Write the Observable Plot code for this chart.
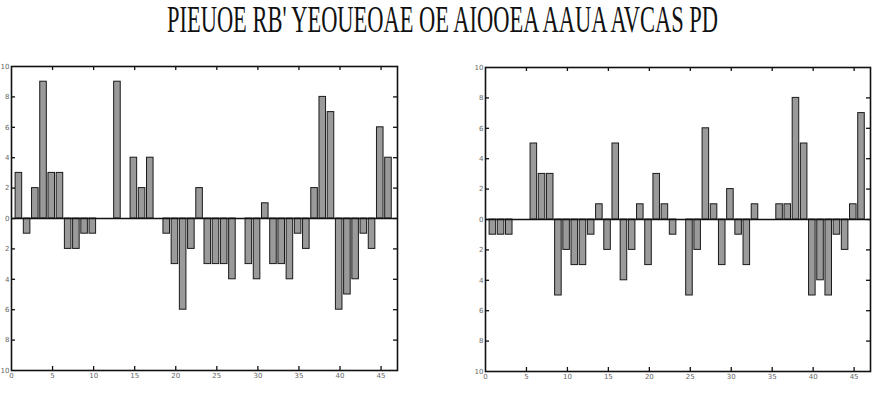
<!DOCTYPE html>
<html>
<head>
<meta charset="utf-8">
<script src="https://cdn.jsdelivr.net/npm/d3@7"></script>
<script src="https://cdn.jsdelivr.net/npm/@observablehq/plot@0.6"></script>
<style>
  html, body { margin: 0; padding: 0; background: #fff; width: 873px; height: 396px; overflow: hidden; }
  #title { position: absolute; left: 0; top: 0; }
  #left { position: absolute; left: 0; top: 56px; }
  #right { position: absolute; left: 470px; top: 57px; }
</style>
</head>
<body>
<svg id="title" width="873" height="45">
  <g transform="translate(167,32) scale(1,1.55)">
    <text id="titleText" x="0" y="0" font-family="Liberation Serif, DejaVu Serif, serif" font-size="24" fill="#111"
          textLength="551" lengthAdjust="spacingAndGlyphs"></text>
  </g>
</svg>
<div id="left"></div>
<div id="right"></div>
<script>
const titleText = "PIEUOE RB' YEOUEOAE OE AIOOEA AAUA AVCAS PD";
const leftValues = [3,-1,2,9,3,3,-2,-2,-1,-1,0,0,9,0,4,2,4,0,-1,-3,-6,-2,2,-3,-3,-3,-4,0,-3,-4,1,-3,-3,-4,-1,-2,2,8,7,-6,-5,-4,-1,-2,6,4];
const rightValues = [-1,-1,-1,0,0,5,3,3,-5,-2,-3,-3,-1,1,-2,5,-4,-2,1,-3,3,1,-1,0,-5,-2,6,1,-3,2,-1,-3,1,0,0,1,1,8,5,-5,-4,-5,-1,-2,1,7];
const xTicks = [0,5,10,15,20,25,30,35,40,45];
const yTicks = [-10,-8,-6,-4,-2,0,2,4,6,8,10];

document.getElementById("titleText").textContent = titleText;

function panel(values, opts) {
  const data = values.map((v, k) => ({i: k + 1, v}));
  const H = 330, mt = 10, mb = 16;
  const fh = H - mt - mb;
  const fw = opts.width - opts.ml - opts.mr;
  return Plot.plot({
    width: opts.width,
    height: H,
    marginLeft: opts.ml,
    marginRight: opts.mr,
    marginTop: mt,
    marginBottom: mb,
    style: {background: "white", fontFamily: "DejaVu Sans, sans-serif"},
    x: {domain: [0, 47]},
    y: {domain: [-10, 10]},
    marks: [
      Plot.rectY(data, {x1: d => d.i - 0.5, x2: d => d.i + 0.3, y1: 0, y2: d => d.v, fill: "#9a9a9a", stroke: "#1a1a1a", strokeWidth: 1}),
      Plot.ruleY([0], {stroke: "#111", strokeWidth: 1.3}),
      Plot.ruleX(xTicks.filter(t => t > 0), {x: d => d, insetTop: fh - 4, stroke: "#111", strokeWidth: 1.3}),
      Plot.ruleX(xTicks.filter(t => t > 0), {x: d => d, insetBottom: fh - 4, stroke: "#111", strokeWidth: 1.3}),
      Plot.ruleY(yTicks.filter(t => t > -10 && t < 10), {y: d => d, insetRight: fw - 4, stroke: "#111", strokeWidth: 1.3}),
      Plot.ruleY(yTicks.filter(t => t > -10 && t < 10), {y: d => d, insetLeft: fw - 4, stroke: "#111", strokeWidth: 1.3}),
      Plot.axisX(xTicks, {tickSize: 0, tickPadding: 3, fontSize: 7, fill: "#666", label: null}),
      Plot.axisY(yTicks, {tickSize: 0, tickPadding: 2, fontSize: 7, fill: "#666", label: null, tickFormat: d => Math.abs(d)}),
      Plot.frame({stroke: "#111", strokeWidth: 1.6})
    ]
  });
}

document.getElementById("left").append(panel(leftValues, {width: 420, ml: 11, mr: 23}));
document.getElementById("right").append(panel(rightValues, {width: 403, ml: 15, mr: 3}));
</script>
</body>
</html>
